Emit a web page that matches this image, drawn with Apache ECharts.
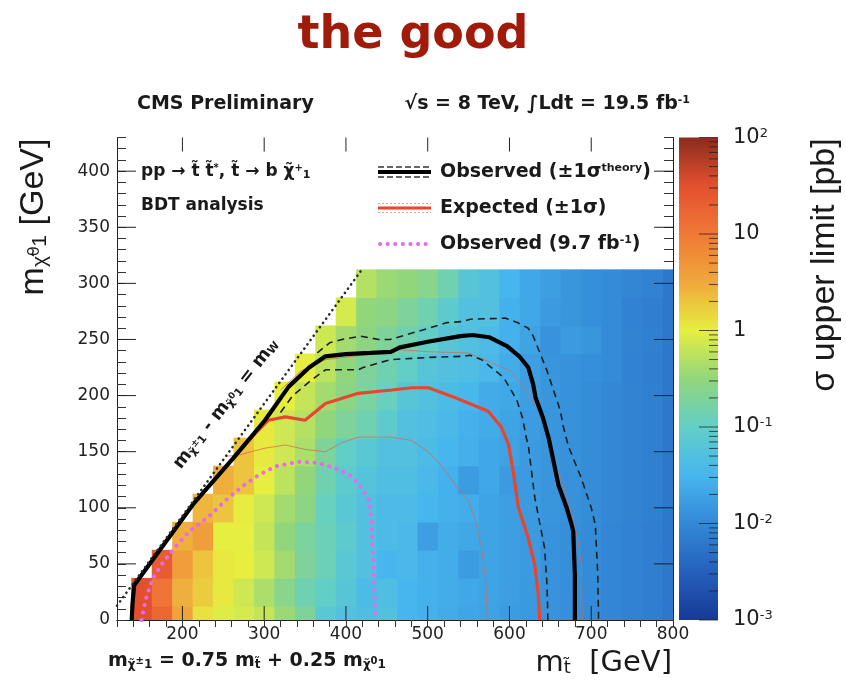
<!DOCTYPE html>
<html>
<head>
<meta charset="utf-8">
<script src="https://cdn.jsdelivr.net/npm/echarts@6/dist/echarts.min.js"></script>
<style>
  html, body { margin: 0; padding: 0; background: #ffffff; }
  #chart { width: 846px; height: 692px; }
</style>
</head>
<body>
<div id="chart"></div>
<script>
// ---------------------------------------------------------------------------
// Stop pair production, t~ -> b chi+_1 : 95% CL cross-section upper limits
// ---------------------------------------------------------------------------

// Bin centres of the scan (GeV)
const stopMass = [150, 175, 200, 225, 250, 275, 300, 325, 350, 375, 400, 425, 450, 475,
                  500, 525, 550, 575, 600, 625, 650, 675, 700, 725, 750, 775, 800];
const lspMass = [0, 25, 50, 75, 100, 125, 150, 175, 200, 225, 250, 275, 300];

// log10 of the observed upper limit [pb]; one row per LSP mass, one entry per stop mass.
// null = point outside the kinematically allowed region.
const limitExp = [
  /*   0 */ [1.5, 1.2, 0.55, 0.1, -0.05, -0.1, -0.2, -0.45, -0.7, -1.15, -1.3, -1.35, -1.3, -1.5, -1.55, -1.62, -1.68, -1.72, -1.78, -1.82, -1.88, -1.92, -1.97, -2.02, -2.07, -2.12, -2.2],
  /*  25 */ [1.5, 1.05, 0.45, 0.25, 0.05, -0.15, -0.35, -0.6, -0.85, -1.0, -1.2, -1.4, -1.35, -1.5, -1.55, -1.6, -1.65, -1.7, -1.75, -1.82, -1.88, -1.92, -1.97, -2.02, -2.07, -2.12, -2.2],
  /*  50 */ [null, 1.35, 0.6, 0.3, 0.05, 0.0, -0.15, -0.4, -0.7, -0.9, -1.15, -1.3, -1.5, -1.45, -1.55, -1.6, -1.78, -1.7, -1.75, -1.8, -1.88, -1.92, -1.97, -2.02, -2.07, -2.12, -2.2],
  /*  75 */ [null, null, 0.45, 0.6, 0.0, 0.0, -0.2, -0.5, -0.72, -0.9, -1.1, -1.3, -1.4, -1.45, -1.75, -1.6, -1.65, -1.7, -1.75, -1.8, -1.88, -1.92, -1.97, -2.02, -2.07, -2.12, -2.2],
  /* 100 */ [null, null, null, 0.4, 0.3, 0.02, -0.15, -0.4, -0.55, -0.95, -1.15, -1.3, -1.4, -1.4, -1.5, -1.55, -1.6, -1.7, -1.75, -1.8, -1.85, -1.9, -1.95, -2.0, -2.05, -2.1, -2.2],
  /* 125 */ [null, null, null, null, 0.45, 0.3, 0.0, -0.25, -0.5, -0.85, -1.1, -1.25, -1.35, -1.35, -1.45, -1.55, -1.78, -1.65, -1.8, -1.8, -1.85, -1.9, -1.95, -2.0, -2.05, -2.1, -2.2],
  /* 150 */ [null, null, null, null, null, 0.3, 0.05, -0.15, -0.35, -0.7, -1.0, -1.15, -1.3, -1.3, -1.4, -1.5, -1.58, -1.65, -1.72, -1.8, -1.85, -1.9, -1.95, -2.0, -2.05, -2.1, -2.2],
  /* 175 */ [null, null, null, null, null, null, 0.05, -0.15, -0.3, -0.5, -0.7, -0.85, -1.1, -1.3, -1.35, -1.45, -1.55, -1.62, -1.7, -1.78, -1.85, -1.9, -1.95, -2.0, -2.05, -2.1, -2.2],
  /* 200 */ [null, null, null, null, null, null, null, 0.0, -0.2, -0.4, -0.55, -0.75, -0.95, -1.2, -1.3, -1.38, -1.48, -1.62, -1.65, -1.75, -1.85, -1.9, -1.95, -2.0, -2.05, -2.1, -2.2],
  /* 225 */ [null, null, null, null, null, null, null, null, 0.0, -0.25, -0.5, -0.7, -0.85, -1.0, -1.2, -1.3, -1.35, -1.45, -1.6, -1.75, -1.85, -1.9, -1.92, -1.97, -2.08, -2.12, -2.2],
  /* 250 */ [null, null, null, null, null, null, null, null, null, -0.15, -0.4, -0.55, -0.7, -0.85, -1.0, -1.2, -1.3, -1.4, -1.55, -1.7, -1.88, -1.8, -1.85, -1.97, -2.05, -2.1, -2.2],
  /* 275 */ [null, null, null, null, null, null, null, null, null, null, -0.1, -0.5, -0.55, -0.7, -0.85, -1.1, -1.3, -1.3, -1.55, -1.65, -1.8, -1.85, -1.92, -1.97, -2.08, -2.12, -2.2],
  /* 300 */ [null, null, null, null, null, null, null, null, null, null, null, -0.3, -0.45, -0.5, -0.6, -0.85, -1.2, -1.3, -1.5, -1.65, -1.75, -1.85, -1.92, -1.97, -2.03, -2.08, -2.2]
];

// Exclusion contours, [m(stop), m(LSP)] in GeV
const observed = [[138, 0], [139, 15], [141, 31], [214, 104], [262, 144], [301, 178], [330, 208],
  [355, 225], [375, 235], [400, 237], [430, 238], [455, 239], [466, 243], [500, 248], [540, 253],
  [555, 254], [575, 252], [597, 244], [612, 235], [623, 225], [629, 210], [632, 198], [641, 180],
  [648, 162], [660, 120], [670, 100], [676, 85], [678, 79], [680, 40], [680, 0]];
const observedUp = [[365, 238], [380, 247], [395, 250], [418, 253], [440, 250], [454, 250], [487, 257],
  [501, 260], [523, 265], [542, 266], [552, 268], [595, 269], [610, 265], [623, 260], [629, 253],
  [640, 233], [646, 222], [662, 187], [666, 172], [672, 155], [688, 126], [700, 100], [705, 85],
  [708, 40], [709, 0]];
const observedDown = [[320, 185], [335, 200], [358, 214], [375, 223], [415, 223], [421, 225], [454, 232],
  [501, 234], [542, 235], [552, 236], [566, 232], [593, 216], [609, 196], [616, 180], [621, 161],
  [623, 156], [631, 109], [643, 64], [646, 30], [647, 0]];
const expected = [[138, 0], [139, 15], [141, 31], [214, 104], [262, 144], [290, 167], [305, 178],
  [326, 181], [350, 178], [375, 193], [415, 202], [456, 205], [480, 207], [501, 207], [534, 198],
  [574, 186], [590, 172], [599, 156], [605, 130], [611, 100], [623, 73], [631, 49], [635, 25], [637, 0]];
const expectedUp = [[320, 205], [345, 222], [375, 232], [420, 236], [462, 241], [503, 239], [550, 238],
  [582, 228], [601, 222], [615, 210], [633, 190], [640, 183], [646, 166], [656, 138], [668, 115],
  [676, 94], [684, 70], [688, 49], [689, 0]];
const expectedDown = [[255, 146], [269, 147], [300, 153], [326, 156], [350, 152], [375, 150], [395, 158],
  [415, 163], [456, 163], [480, 160], [501, 150], [520, 135], [534, 120], [550, 106], [558, 90],
  [566, 64], [571, 35], [573, 0]];
const observed97 = [[150, 0], [155, 18], [163, 36], [175, 50], [191, 65], [210, 80], [232, 92],
  [252, 106], [273, 119], [293, 129], [314, 137], [342, 141], [366, 140], [388, 135], [407, 128],
  [420, 117], [428, 107], [431, 90], [432, 74], [434, 40], [436, 0]];
// m(chi+_1) - m(LSP) = m(W)  with  m(chi+_1) = 0.75 m(stop) + 0.25 m(LSP)
const wBoundary = [[120, 12.8], [419.7, 312.5]];

// Axis tick values
const xMajorTicks = [200, 300, 400, 500, 600, 700];
const yMajorTicks = [50, 100, 150, 200, 250, 300, 350, 400];
const zDecades = [0.001, 0.01, 0.1, 1, 10, 100];
const zLabels = { '-3': '10{s|-3}', '-2': '10{s|-2}', '-1': '10{s|-1}', '0': '1', '1': '10', '2': '10{s|2}' };

// Colour palette, evenly spaced in log10(sigma) from -3 to 2
const PALETTE = ['#173A96', '#2560BC', '#3388D6', '#47B6EE', '#62CFC6', '#92D67C',
                 '#E6EF40', '#F0A83C', '#F07836', '#E3502F', '#8A2C1E'];

const X_MIN = 120, X_MAX = 800, Y_MIN = 0, Y_MAX = 430;
const BIN_W = 25, BIN_H = 25;
const FONT = 'DejaVu Sans';
const FONT_ROT = 'Liberation Sans';
const INK = '#1a1a1a';

// ---------------------------------------------------------------------------
const cells = [];
lspMass.forEach((m0, j) => {
  stopMass.forEach((mt, i) => {
    const v = limitExp[j][i];
    if (v !== null) cells.push([mt, m0, v]);
  });
});

const majorTickData = [];
xMajorTicks.forEach(v => { majorTickData.push([v, 0]); majorTickData.push([v, 1]); });
yMajorTicks.forEach(v => { majorTickData.push([v, 2]); majorTickData.push([v, 3]); });

const zTickData = [];
zDecades.forEach((d, k) => {
  zTickData.push([d, 1]);
  if (k < zDecades.length - 1) for (let m = 2; m <= 9; m++) zTickData.push([d * m, 0]);
});

function renderCell(params, api) {
  const mt = api.value(0), m0 = api.value(1);
  const a = api.coord([mt - BIN_W / 2, m0 + BIN_H / 2]);
  const b = api.coord([mt + BIN_W / 2, m0 - BIN_H / 2]);
  const shape = echarts.graphic.clipRectByRect(
    { x: a[0], y: a[1], width: b[0] - a[0] + 0.7, height: b[1] - a[1] + 0.7 },
    params.coordSys);
  if (!shape) return null;
  return { type: 'rect', shape: shape, style: { fill: api.visual('color') } };
}

function renderMajorTick(params, api) {
  const v = api.value(0), side = api.value(1);
  const cs = params.coordSys;
  let x1, y1, x2, y2;
  if (side < 2) {
    x1 = x2 = api.coord([v, Y_MIN])[0];
    if (side === 0) { y1 = cs.y + cs.height; y2 = y1 - 14; } else { y1 = cs.y; y2 = y1 + 14; }
  } else {
    y1 = y2 = api.coord([X_MIN, v])[1];
    if (side === 2) { x1 = cs.x; x2 = x1 + 19; } else { x1 = cs.x + cs.width; x2 = x1 - 19; }
  }
  return { type: 'line', shape: { x1, y1, x2, y2 }, style: { stroke: '#222', lineWidth: 1 } };
}

function renderColorBar(params, api) {
  const cs = params.coordSys;
  const top = api.coord([0.5, 100])[1];
  const bottom = api.coord([0.5, 0.001])[1];
  const stops = PALETTE.slice().reverse().map((c, i) => ({ offset: i / (PALETTE.length - 1), color: c }));
  return {
    type: 'rect',
    shape: { x: cs.x, y: top, width: cs.width, height: bottom - top },
    style: { fill: new echarts.graphic.LinearGradient(0, 0, 0, 1, stops) }
  };
}

function renderZTick(params, api) {
  const cs = params.coordSys;
  const y = api.coord([0.5, api.value(0)])[1];
  const len = api.value(1) ? 19 : 9;
  const x1 = cs.x + cs.width;
  return { type: 'line', shape: { x1: x1, y1: y, x2: x1 - len, y2: y },
           style: { stroke: 'rgba(30,30,30,0.75)', lineWidth: 1 } };
}

// rich-text helpers
function tok(size, weight, family, va) {
  return { fontSize: size, fontWeight: weight, fontFamily: family, verticalAlign: va, fill: INK };
}
function richSet(size, weight, family) {
  return {
    b: tok(size, weight, family, 'middle'),
    sb: tok(Math.round(size * 0.62), weight, family, 'bottom'),
    sp: tok(Math.round(size * 0.6), weight, family, 'top'),
    sm: tok(Math.round(size * 0.5), weight, family, 'middle')
  };
}
function text(x, y, str, size, opts) {
  opts = opts || {};
  const weight = opts.weight || 'normal';
  const family = opts.family || FONT;
  return {
    type: 'text', x: x, y: y, rotation: opts.rotation || 0, silent: true,
    style: {
      text: str, fontSize: size, fontWeight: weight, fontFamily: family,
      fill: opts.color || INK, align: opts.align || 'left', verticalAlign: 'middle',
      rich: richSet(size, weight, family)
    }
  };
}

const axisLineStyle = { show: true, lineStyle: { color: '#222', width: 1 } };
const minorTickStyle = { show: true, inside: true, lineStyle: { color: '#333', width: 1 } };

const mainX = {
  type: 'value', gridIndex: 0, min: X_MIN, max: X_MAX, interval: 20,
  axisLine: axisLineStyle, splitLine: { show: false },
  axisTick: Object.assign({ length: 7 }, minorTickStyle)
};
const mainY = {
  type: 'value', gridIndex: 0, min: Y_MIN, max: Y_MAX, interval: 10,
  axisLine: axisLineStyle, splitLine: { show: false },
  axisTick: Object.assign({ length: 9 }, minorTickStyle)
};

const option = {
  animation: false,
  backgroundColor: '#ffffff',
  grid: [
    { left: 117, top: 137.5, width: 556, height: 482.5, show: false },
    { left: 679, top: 137.5, width: 39, height: 482.5, show: false }
  ],
  xAxis: [
    Object.assign({}, mainX, {
      position: 'bottom',
      axisLabel: { margin: 6, fontSize: 17, fontFamily: FONT, color: '#222',
                   formatter: v => (v % 100 === 0 ? String(v) : '') }
    }),
    Object.assign({}, mainX, { position: 'top', axisLabel: { show: false } }),
    { type: 'value', gridIndex: 1, min: 0, max: 1, show: false }
  ],
  yAxis: [
    Object.assign({}, mainY, {
      position: 'left',
      axisLabel: { margin: 7, fontSize: 17, fontFamily: FONT, color: '#222',
                   formatter: v => (v % 50 === 0 ? String(v) : '') }
    }),
    Object.assign({}, mainY, { position: 'right', axisLabel: { show: false } }),
    {
      type: 'log', logBase: 10, gridIndex: 1, min: 0.001, max: 100, position: 'right',
      axisLine: { show: false }, axisTick: { show: false }, splitLine: { show: false },
      axisLabel: {
        margin: 15, fontSize: 21, fontFamily: FONT, color: '#222',
        formatter: v => zLabels[String(Math.round(Math.log10(v)))] || '',
        rich: { s: { fontSize: 13, fontFamily: FONT, color: '#222', verticalAlign: 'top', padding: [0, 0, 8, 0] } }
      }
    }
  ],
  visualMap: {
    show: false, type: 'continuous', seriesIndex: 0, dimension: 2,
    min: -3, max: 2, inRange: { color: PALETTE }
  },
  series: [
    { type: 'custom', name: 'limit', xAxisIndex: 0, yAxisIndex: 0, data: cells,
      renderItem: renderCell, silent: true, z: 1 },
    { type: 'line', name: 'expected +1s', data: expectedUp, xAxisIndex: 0, yAxisIndex: 0,
      symbol: 'none', silent: true, z: 3,
      lineStyle: { color: 'rgba(214,105,88,0.75)', width: 1 } },
    { type: 'line', name: 'expected -1s', data: expectedDown, xAxisIndex: 0, yAxisIndex: 0,
      symbol: 'none', silent: true, z: 3,
      lineStyle: { color: 'rgba(214,105,88,0.75)', width: 1 } },
    { type: 'line', name: 'observed +1s', data: observedUp, xAxisIndex: 0, yAxisIndex: 0,
      symbol: 'none', silent: true, z: 4,
      lineStyle: { color: '#1e1e1e', width: 1.6, type: [7, 5] } },
    { type: 'line', name: 'observed -1s', data: observedDown, xAxisIndex: 0, yAxisIndex: 0,
      symbol: 'none', silent: true, z: 4,
      lineStyle: { color: '#1e1e1e', width: 1.6, type: [7, 5] } },
    { type: 'line', name: 'observed 9.7', data: observed97, xAxisIndex: 0, yAxisIndex: 0,
      symbol: 'none', silent: true, z: 5,
      lineStyle: { color: '#E76AEA', width: 4, type: [0.1, 7.5], cap: 'round' } },
    { type: 'line', name: 'expected', data: expected, xAxisIndex: 0, yAxisIndex: 0,
      symbol: 'none', silent: true, z: 5,
      lineStyle: { color: '#E8452F', width: 3.2 } },
    { type: 'line', name: 'observed', data: observed, xAxisIndex: 0, yAxisIndex: 0,
      symbol: 'none', silent: true, z: 6,
      lineStyle: { color: '#000000', width: 4.2 } },
    { type: 'line', name: 'W boundary', data: wBoundary, xAxisIndex: 0, yAxisIndex: 0,
      symbol: 'none', silent: true, z: 7,
      lineStyle: { color: '#2a2a2a', width: 2.6, type: [0.1, 5.2], cap: 'round' } },
    { type: 'custom', name: 'major ticks', xAxisIndex: 0, yAxisIndex: 0, data: majorTickData,
      renderItem: renderMajorTick, silent: true, z: 8 },
    { type: 'custom', name: 'colour bar', xAxisIndex: 2, yAxisIndex: 2, data: [[0.5, 1]],
      renderItem: renderColorBar, silent: true, z: 1 },
    { type: 'custom', name: 'colour bar ticks', xAxisIndex: 2, yAxisIndex: 2,
      data: zTickData, encode: { x: -1, y: 0 },
      renderItem: renderZTick, silent: true, z: 2 }
  ],
  graphic: [
    text(413, 36, 'the good', 46, { weight: 'bold', color: '#A11B0B', align: 'center' }),
    text(137, 104, 'CMS Preliminary', 19, { weight: 'bold' }),
    text(690, 104, '√s = 8 TeV, ∫Ldt = 19.5 fb{sp|-1}', 19, { weight: 'bold', align: 'right' }),
    text(141, 172, 'pp → t̃ t̃{sp|*}, t̃ → b χ̃{sp|+}{sb|1}', 17, { weight: 'bold' }),
    text(141, 206, 'BDT analysis', 17, { weight: 'bold' }),

    // legend
    { type: 'line', silent: true, shape: { x1: 378, y1: 167, x2: 431, y2: 167 },
      style: { stroke: '#333', lineWidth: 1.5, lineDash: [6, 3] } },
    { type: 'line', silent: true, shape: { x1: 378, y1: 177, x2: 431, y2: 177 },
      style: { stroke: '#333', lineWidth: 1.5, lineDash: [6, 3] } },
    { type: 'line', silent: true, shape: { x1: 378, y1: 172, x2: 431, y2: 172 },
      style: { stroke: '#000', lineWidth: 4 } },
    text(440, 172, 'Observed (±1σ{sp|theory})', 19, { weight: 'bold' }),
    { type: 'line', silent: true, shape: { x1: 378, y1: 203.5, x2: 431, y2: 203.5 },
      style: { stroke: 'rgba(230,110,95,0.7)', lineWidth: 1, lineDash: [2, 2] } },
    { type: 'line', silent: true, shape: { x1: 378, y1: 212.5, x2: 431, y2: 212.5 },
      style: { stroke: 'rgba(230,110,95,0.7)', lineWidth: 1, lineDash: [2, 2] } },
    { type: 'line', silent: true, shape: { x1: 378, y1: 208, x2: 431, y2: 208 },
      style: { stroke: '#E8452F', lineWidth: 3.2 } },
    text(440, 208, 'Expected (±1σ)', 19, { weight: 'bold' }),
    { type: 'line', silent: true, shape: { x1: 380, y1: 244, x2: 431, y2: 244 },
      style: { stroke: '#E76AEA', lineWidth: 4, lineDash: [0.1, 7.5], lineCap: 'round' } },
    text(440, 244, 'Observed (9.7 fb{sp|-1})', 19, { weight: 'bold' }),

    // kinematic boundary label
    text(226, 404, 'm{sb|χ̃}{sm|±}{sb|1} - m{sb|χ̃}{sm|0}{sb|1} = m{sb|W}', 18,
         { weight: 'bold', align: 'center', rotation: 52 * Math.PI / 180 }),

    // axis titles
    text(34, 217, 'm{sb|χ̃}{sm|0}{sb|1} [GeV]', 34,
         { family: FONT_ROT, align: 'center', rotation: Math.PI / 2 }),
    text(672, 663, 'm{sb|t̃}  [GeV]', 29, { align: 'right' }),
    text(108, 661, 'm{sb|χ̃}{sm|±}{sb|1} = 0.75 m{sb|t̃} + 0.25 m{sb|χ̃}{sm|0}{sb|1}', 19, { weight: 'bold' }),
    text(825, 265, 'σ upper limit [pb]', 34,
         { family: FONT_ROT, align: 'center', rotation: Math.PI / 2 })
  ]
};

const chart = echarts.init(document.getElementById('chart'), null, { renderer: 'canvas' });
chart.setOption(option);
</script>
</body>
</html>
